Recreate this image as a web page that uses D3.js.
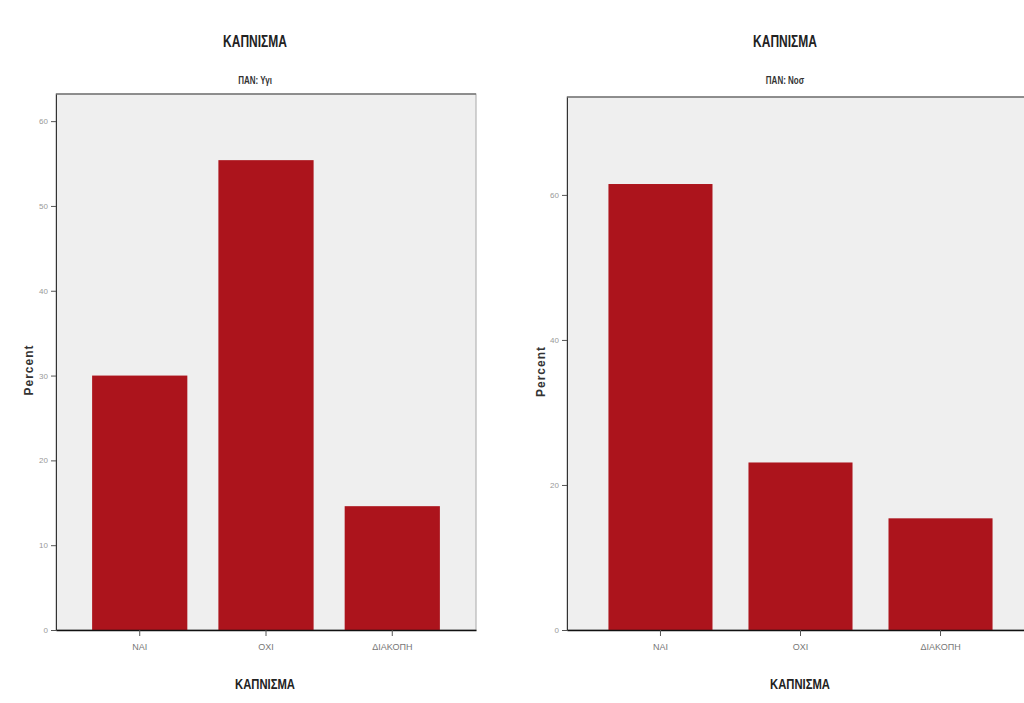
<!DOCTYPE html>
<html><head><meta charset="utf-8">
<script src="https://cdn.jsdelivr.net/npm/d3@7"></script>
<style>
body{margin:0;background:#fff;}
svg{display:block;}
.narrow{font-family:"Liberation Sans Narrow","Arial Narrow","Liberation Sans",Arial,sans-serif;}
</style></head>
<body>
<svg id="chart" width="1024" height="703"></svg>
<script>
const categories = ["ΝΑΙ", "ΟΧΙ", "ΔΙΑΚΟΠΗ"];
const leftValues = [30.0, 55.4, 14.6];
const rightValues = [61.5, 23.1, 15.4];
const leftTicks = [0, 10, 20, 30, 40, 50, 60];
const rightTicks = [0, 20, 40, 60];
const mainTitle = "ΚΑΠΝΙΣΜΑ";
const leftSubtitle = "ΠΑΝ: Υγι";
const rightSubtitle = "ΠΑΝ: Νοσ";
const xTitle = "ΚΑΠΝΙΣΜΑ";
const yTitle = "Percent";

const svg = d3.select("#chart");

function condensedText(g, x, y, size, text, sx, fill){
  g.append("text").attr("class", "narrow")
    .attr("transform", `translate(${x},${y}) scale(${sx},1)`)
    .attr("text-anchor", "middle").attr("font-size", size).attr("font-weight", "bold")
    .attr("fill", fill).text(text);
}

function panel(cfg){
  const g = svg.append("g");
  const y = d3.scaleLinear().domain([0, cfg.ymax]).range([cfg.bottom, cfg.top]);
  const x = d3.scaleBand().domain(categories).range([cfg.left, cfg.right])
    .paddingInner(cfg.pin).paddingOuter(cfg.pout);
  g.append("rect").attr("x", cfg.left).attr("y", cfg.top)
    .attr("width", cfg.right - cfg.left).attr("height", cfg.bottom - cfg.top)
    .attr("fill", "#efefef").attr("stroke", "#a8a8a8").attr("stroke-width", 1);
  g.append("line").attr("x1", cfg.left).attr("x2", cfg.right)
    .attr("y1", cfg.top).attr("y2", cfg.top).attr("stroke", "#777").attr("stroke-width", 1.5);
  g.selectAll("rect.bar").data(cfg.values).join("rect").attr("class", "bar")
    .attr("x", (d, i) => x(categories[i]))
    .attr("width", x.bandwidth())
    .attr("y", d => y(d))
    .attr("height", d => y(0) - y(d))
    .attr("fill", "#ac141c");
  const ya = g.append("g").attr("transform", `translate(${cfg.left},0)`)
    .call(d3.axisLeft(y).tickValues(cfg.ticks).tickSize(5).tickSizeOuter(0).tickPadding(3));
  ya.select(".domain").attr("stroke", "#333");
  ya.selectAll(".tick line").attr("stroke", "#555");
  ya.selectAll(".tick text").attr("fill", "#999").attr("font-size", 8)
    .attr("font-family", "Liberation Sans, Arial, sans-serif");
  const xa = g.append("g").attr("transform", `translate(0,${cfg.bottom})`)
    .call(d3.axisBottom(x).tickSize(6).tickSizeOuter(0).tickPadding(8));
  xa.select(".domain").attr("stroke", "#111").attr("stroke-width", 1.5);
  xa.selectAll(".tick line").attr("stroke", "#555");
  xa.selectAll(".tick text").attr("fill", "#777").attr("font-size", 9)
    .attr("class", "narrow");
  condensedText(g, cfg.titleX, 47, 16, mainTitle, 0.75, "#222");
  condensedText(g, cfg.titleX, 84, 10, cfg.subtitle, 0.8, "#333");
  condensedText(g, cfg.xTitleX, 689, 15, xTitle, 0.75, "#222");
  g.append("text").attr("transform", `translate(${cfg.yTitleX},${(cfg.top + cfg.bottom) / 2 + 8}) rotate(-90)`)
    .attr("text-anchor", "middle").attr("font-size", 12).attr("font-weight", "bold")
    .attr("font-family", "Liberation Sans, Arial, sans-serif")
    .attr("letter-spacing", 1).attr("fill", "#333").text(yTitle);
}

panel({values: leftValues, ticks: leftTicks, ymax: 63.2, top: 94, bottom: 630,
  left: 56, right: 476, pin: 0.246, pout: 0.286, titleX: 255, xTitleX: 265, yTitleX: 33,
  subtitle: leftSubtitle});
panel({values: rightValues, ticks: rightTicks, ymax: 73.5, top: 97, bottom: 630,
  left: 567, right: 1034, pin: 0.257, pout: 0.296, titleX: 785, xTitleX: 800, yTitleX: 545,
  subtitle: rightSubtitle});
</script>
</body></html>
